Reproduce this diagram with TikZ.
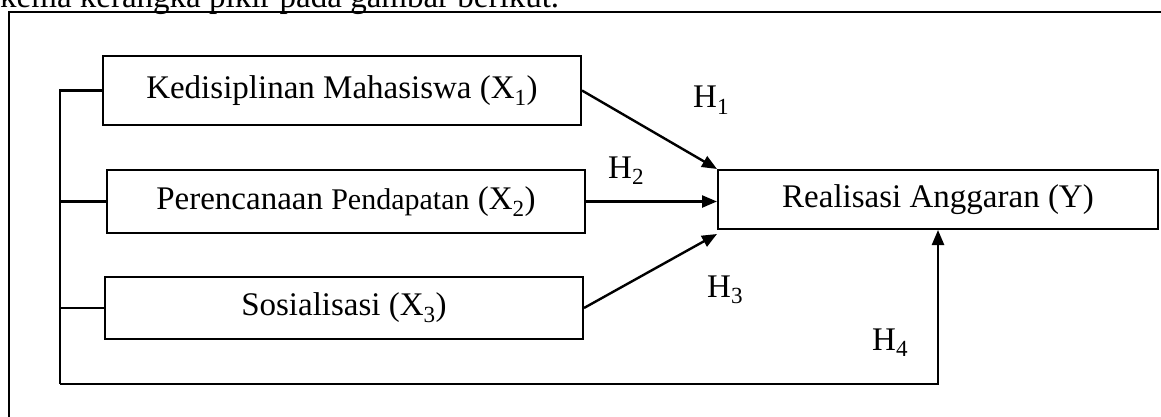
\documentclass[tikz,border=0pt]{standalone}
\usepackage{fontspec}
\setmainfont{Liberation Serif}
\usetikzlibrary{arrows.meta,calc}

\begin{document}
\begin{tikzpicture}[x=1pt,y=-1pt,
  box/.style={draw,line width=2pt,minimum height=#1,inner sep=0pt,font=\fontsize{33}{38}\selectfont},
  line/.style={line width=2.2pt},
  arr/.style={line width=2.4pt,-{Triangle[length=15pt,width=12pt]}},
  hyp/.style={font=\fontsize{33}{38}\selectfont,anchor=base west,inner sep=0pt}]
\useasboundingbox (0,0) rectangle (1161,417);
\clip (0,0) rectangle (1161,417);
% caption line above the frame, cut off by the page
\node[font=\fontsize{33}{38}\selectfont,anchor=base west,inner sep=0pt] (cap) at (0,8) {kema kerangka pikir pada gambar berikut.};
\draw[line width=2.8pt] (9,12) rectangle (1220,460);
% variables
\node[box=69pt,minimum width=478pt] (x1) at (342,90.5) {Kedisiplinan Mahasiswa (X\textsubscript{1})};
\node[box=63pt,minimum width=478pt] (x2) at (346,201.5) {Perencanaan {\fontsize{30}{36}\selectfont Pendapatan} (X\textsubscript{2})};
\node[box=62pt,minimum width=478pt] (x3) at (344,308) {Sosialisasi (X\textsubscript{3})};
\node[box=59pt,minimum width=440pt] (y) at (938,199.5) {Realisasi Anggaran (Y)};
% simultaneous path
\coordinate (busL) at (60,384);
\draw[line] (x1.west) -- (x1.west -| busL) -- (busL);
\draw[line] (x2.west) -- (x2.west -| busL);
\draw[line] (x3.west) -- (x3.west -| busL);
\draw[arr] (busL) -| (y.south);
% partial paths
\draw[arr] (x1.east) -- (y.north west);
\draw[arr] (x2.east) -- (x2.east -| y.west);
\draw[arr] (x3.east) -- ($(y.south west)+(0,4)$);
\node[hyp] (h1) at (693,108) {H\textsubscript{1}};
\node[hyp] (h2) at (608,178) {H\textsubscript{2}};
\node[hyp] (h3) at (707,297) {H\textsubscript{3}};
\node[hyp] (h4) at (872,350) {H\textsubscript{4}};
\end{tikzpicture}
\end{document}
